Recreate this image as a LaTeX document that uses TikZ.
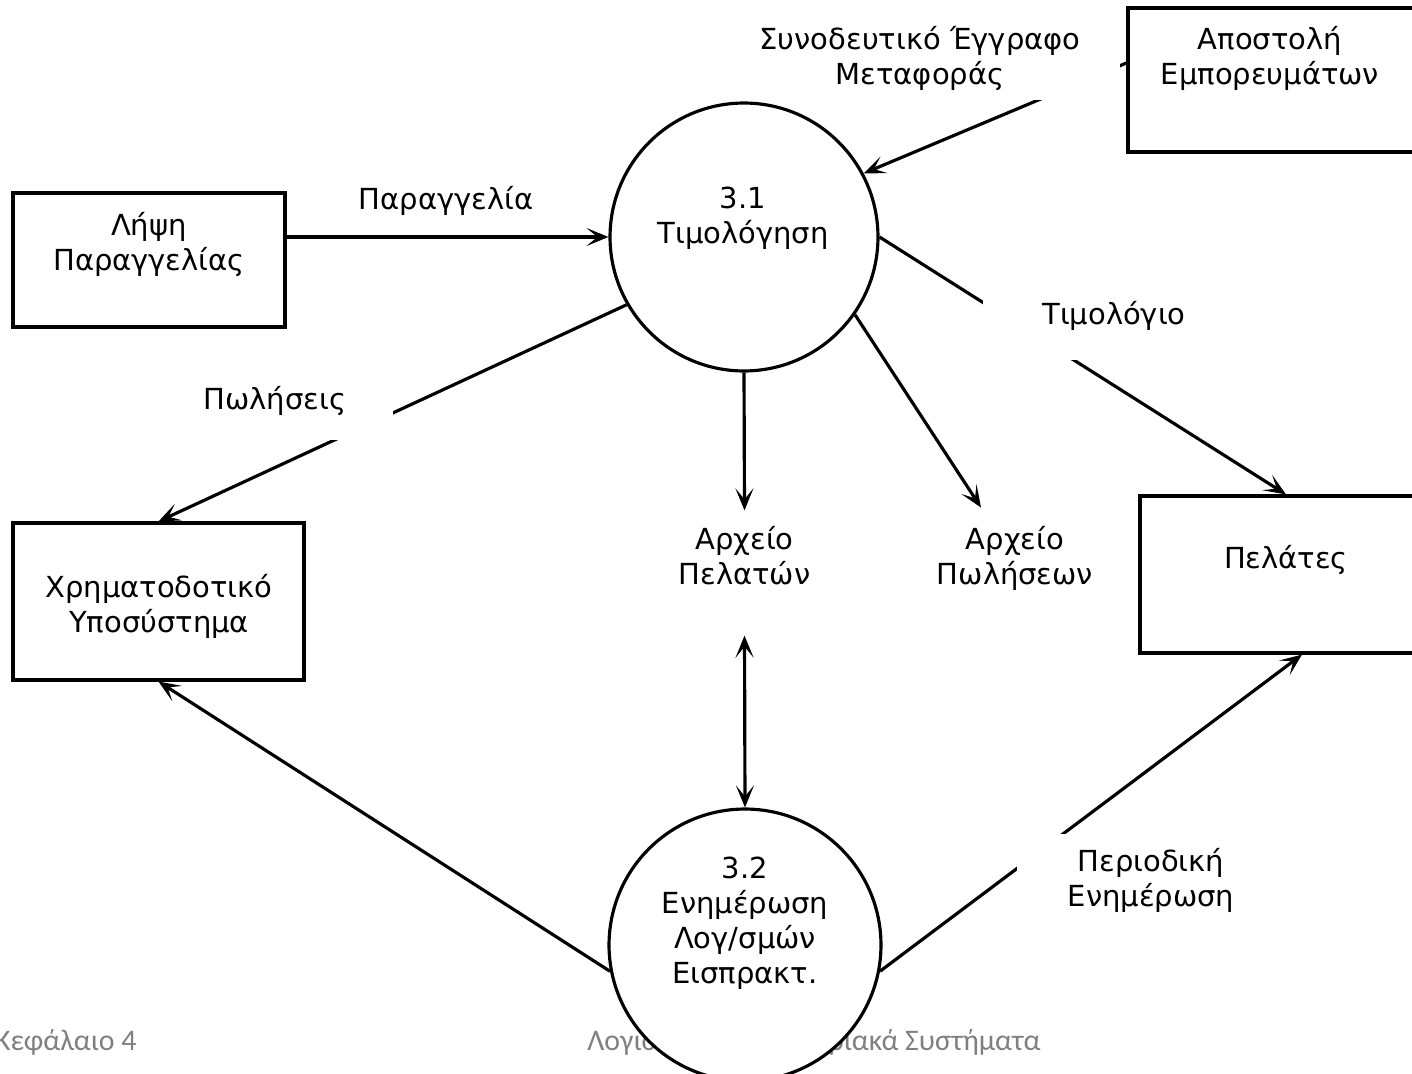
\documentclass[tikz,border=0pt]{standalone}
\usepackage{fontspec}
\setmainfont{DejaVu Sans}
\newfontfamily\footfont{Carlito}
\usepackage{tikz}
\usetikzlibrary{arrows.meta,calc}
\tikzset{>={Stealth[length=0.44cm,width=0.36cm,inset=0.22cm]}}

\begin{document}
\begin{tikzpicture}[x=0.02cm, y=-0.02cm,
                    every node/.style={font=\fontsize{16.5}{19.9}\selectfont, inner sep=0pt},
                    box/.style={draw, line width=1.8pt},
                    proc/.style={circle, draw, fill=white, line width=1.8pt},
                    flow/.style={line width=1.8pt, ->},
                    txt/.style={align=center},
                    lbl/.style={align=center, fill=white},
                    foot/.style={font=\footfont\fontsize{17}{20}\selectfont, text=black!50},
                   ]

\useasboundingbox (0,0) rectangle (1412,1074);
\fill[white] (0,0) rectangle (1412,1074);

% footer
\node[foot, anchor=base east] (kef) at (137,1050) {Κεφάλαιο 4};
\node[foot, anchor=base west] (lps) at (587,1050) {Λογιστικά Πληροφοριακά Συστήματα};

% entities
\node[box, minimum width=5.44cm, minimum height=2.68cm] (lipsi) at (149,260) {};
\node[txt] (lipsitxt) at (149,244) {Λήψη\\Παραγγελίας};

\node[box, minimum width=5.82cm, minimum height=3.14cm] (chrim) at (158.5,601.5) {};
\node[txt] (chrimtxt) at (159,606) {Χρηματοδοτικό\\Υποσύστημα};

\node[box, minimum width=5.74cm, minimum height=2.88cm] (apost) at (1271.5,80) {};
\node[txt] (aposttxt) at (1270,58) {Αποστολή\\Εμπορευμάτων};

\node[box, minimum width=5.84cm, minimum height=3.14cm] (pel) at (1286,574.5) {};
\node[txt] (peltxt) at (1286,560) {Πελάτες};

% processes
\node[proc, minimum size=5.36cm] (t31) at (744,237) {};
\node[txt] (t31txt) at (743,218) {3.1\\Τιμολόγηση};

\node[proc, minimum size=5.44cm] (t32) at (745,945) {};
\node[txt] (t32txt) at (745,923) {3.2\\Ενημέρωση\\Λογ/σμών\\Εισπρακτ.};

% stores
\node[txt] (arxpel) at (744.5,556) {Αρχείο\\Πελατών};
\node[txt] (arxpol) at (1015,558) {Αρχείο\\Πωλήσεων};

% flows
\draw[flow] ($(lipsi.east)+(0,-23)$) -- (t31.west);
\draw[flow] ($(apost.west)+(0,-17)$) -- (t31.28);
\draw[flow] (t31.210) -- (chrim.north);
\draw[flow] (t31.east) -- (pel.north);
\draw[flow] (t31.south) -- ($(arxpel.north)+(0,-16)$);
\draw[flow] (t31.-35) -- ($(arxpol.north)+(-34,-18)$);
\draw[flow, <->] ($(arxpel.south)+(0,50)$) -- (t32.north);
\draw[flow] (t32.191) -- (chrim.south);
\draw[flow] (t32.-11) -- ($(pel.south)+(16,0)$);

% flow labels
\node[txt] (paragg) at (446,201) {Παραγγελία};
\node[lbl, minimum width=8cm, minimum height=1.68cm] (synod) at (920,58) {Συνοδευτικό Έγγραφο\\Μεταφοράς};
\node[lbl, minimum width=4.72cm, minimum height=1.56cm] (polis) at (275,401) {Πωλήσεις};
\node[lbl, minimum width=5.24cm, minimum height=1.76cm] (timol) at (1114,316) {Τιμολόγιο};
\node[lbl, minimum width=5.36cm, minimum height=1.84cm] (period) at (1151,880) {Περιοδική\\Ενημέρωση};

\end{tikzpicture}
\end{document}
